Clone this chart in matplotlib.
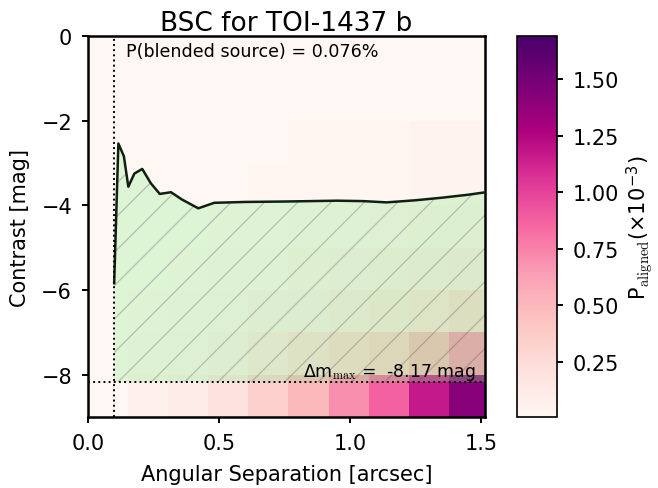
import numpy as np
import matplotlib
matplotlib.use("Agg")
import matplotlib.pyplot as plt

plt.rcParams['font.family'] = ['DejaVu Sans']
plt.rcParams['mathtext.fontset'] = 'cm'
plt.rcParams['hatch.linewidth'] = 0.45

# bin edges of the probability map
sep_edges = [0.0, 0.153, 0.306, 0.459, 0.612, 0.765, 0.918, 1.071, 1.224, 1.377, 1.53]
mag_edges = [-9, -8, -7, -6, -5, -4, -3, -2, -1, 0]

# P_aligned (x1e-3), rows from the faintest bin (-9..-8) up to 0
p_aligned = [
    [0.01, 0.06, 0.11, 0.20, 0.33, 0.50, 0.70, 0.88, 1.17, 1.42],
    [0.01, 0.03, 0.05, 0.09, 0.16, 0.24, 0.30, 0.36, 0.50, 0.68],
    [0.01, 0.02, 0.03, 0.05, 0.08, 0.11, 0.14, 0.18, 0.22, 0.28],
    [0.01, 0.01, 0.02, 0.03, 0.04, 0.06, 0.08, 0.10, 0.12, 0.14],
    [0.01, 0.01, 0.01, 0.02, 0.02, 0.03, 0.04, 0.05, 0.06, 0.07],
    [0.01, 0.01, 0.01, 0.01, 0.02, 0.02, 0.03, 0.03, 0.04, 0.05],
    [0.01, 0.01, 0.01, 0.01, 0.01, 0.02, 0.03, 0.03, 0.05, 0.05],
    [0.01, 0.01, 0.01, 0.01, 0.01, 0.01, 0.01, 0.01, 0.01, 0.01],
    [0.01, 0.01, 0.01, 0.01, 0.01, 0.01, 0.01, 0.01, 0.01, 0.01],
]

# contrast curve
sep = [0.100, 0.116, 0.137, 0.154, 0.177, 0.207, 0.240, 0.274, 0.317, 0.358,
       0.421, 0.482, 0.60, 0.75, 0.95, 1.05, 1.14, 1.25, 1.35, 1.45, 1.53]
contrast = [-5.84, -2.54, -2.84, -3.56, -3.25, -3.14, -3.48, -3.73, -3.69, -3.86,
            -4.07, -3.94, -3.92, -3.91, -3.89, -3.90, -3.93, -3.88, -3.82, -3.75, -3.68]

inner_limit = 0.1
dm_max = -8.17
p_blend = 0.076

fig = plt.figure(figsize=(3.29, 2.445), dpi=200)
ax = fig.add_axes([0.1337, 0.1452, 0.6033, 0.7791])
cax = fig.add_axes([0.7857, 0.1452, 0.0608, 0.7791])

mesh = ax.pcolormesh(sep_edges, mag_edges, np.array(p_aligned), cmap='RdPu',
                     vmin=0.007, vmax=1.69, zorder=0)

# excluded region below the contrast curve
ax.fill_between(sep, contrast, dm_max, facecolor='lightgreen', alpha=0.3,
                linewidth=0, zorder=1)
ax.fill_between(sep, contrast, dm_max, facecolor='none',
                edgecolor=(0.38, 0.3, 0.38, 0.32), hatch='//', linewidth=0, zorder=2)
ax.plot(sep, contrast, color='#102010', lw=0.9, zorder=3)

ax.axvline(inner_limit, color='k', ls=':', lw=0.7, zorder=4)
ax.axhline(dm_max, color='k', ls=':', lw=0.7, zorder=4)

ax.text(0.145, -0.15, f'P(blended source) = {p_blend}%', fontsize=6.3,
        ha='left', va='top', zorder=5)
ax.text(1.48, dm_max, r'Δm$_{\rm max}$ =  ' + f'{dm_max} mag', fontsize=6.2,
        ha='right', va='bottom', zorder=5)

ax.set_xlim(0, 1.515)
ax.set_ylim(-9, 0)
ax.set_xticks([0.0, 0.5, 1.0, 1.5])
ax.set_yticks([0, -2, -4, -6, -8])
ax.tick_params(labelsize=7.5, length=2.2, width=0.7)
for s in ax.spines.values():
    s.set_linewidth(0.9)
ax.set_xlabel('Angular Separation [arcsec]', fontsize=7.5)
ax.set_ylabel('Contrast [mag]', fontsize=7.5)
ax.set_title('BSC for TOI-1437 b', fontsize=9.5, pad=2.2)

cb = fig.colorbar(mesh, cax=cax)
cb.set_ticks([0.25, 0.50, 0.75, 1.00, 1.25, 1.50])
cb.ax.tick_params(labelsize=7.5, length=2, width=0.7)
cb.outline.set_linewidth(0.6)
cb.set_label(r'P$_{\rm aligned}$(×10$^{\mathregular{-3}}$)', fontsize=7.5, labelpad=2)

fig.savefig('out.png', dpi=200)
